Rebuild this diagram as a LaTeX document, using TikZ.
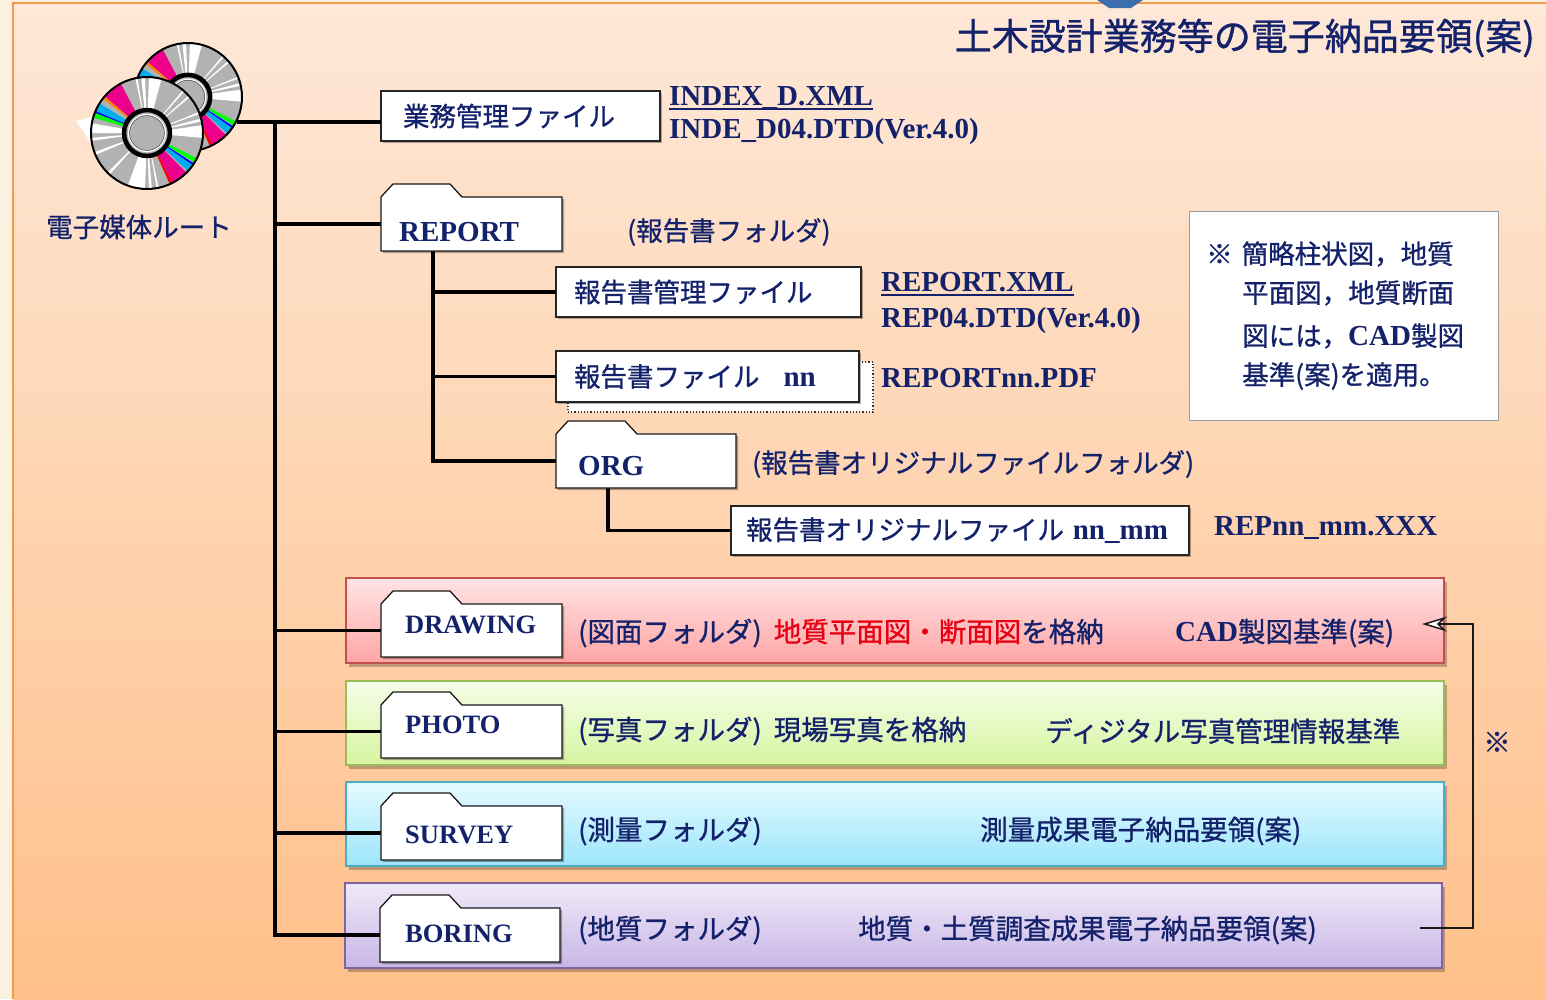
\documentclass[tikz,border=0pt]{standalone}
\usepackage{fontspec}
\setmainfont{Liberation Serif}
\newfontfamily\jp[FakeBold=0.9]{Noto Sans CJK JP}
\usetikzlibrary{shadows,arrows.meta}

\definecolor{navy}{HTML}{14226B}
\definecolor{redtxt}{HTML}{E60012}
\definecolor{stripbg}{HTML}{FBF1DF}
\definecolor{bgtop}{HTML}{FEE8D8}
\definecolor{bgbot}{HTML}{FFC08A}
\definecolor{bgline}{HTML}{F29A4E}
\definecolor{topblue}{HTML}{3D6EAD}
\definecolor{cdgray}{HTML}{B2B2B2}
\definecolor{drwTop}{HTML}{FFE4E4}
\definecolor{drwBot}{HTML}{FFA5A5}
\definecolor{drwLine}{HTML}{C0504D}
\definecolor{phoTop}{HTML}{F6FEEA}
\definecolor{phoBot}{HTML}{D6F4A0}
\definecolor{phoLine}{HTML}{9BBB59}
\definecolor{surTop}{HTML}{E6FAFF}
\definecolor{surBot}{HTML}{9CE5FB}
\definecolor{surLine}{HTML}{4BACC6}
\definecolor{borTop}{HTML}{F0E9F8}
\definecolor{borBot}{HTML}{C8B6E6}
\definecolor{borLine}{HTML}{8064A2}

% outline of a folder drawn round an (invisible) body node
\newcommand\folderpath[1]{%
  \draw[folderline] (#1.south west) -- (#1.north west)
    -- ([shift={(12,-13)}]#1.north west) -- ([shift={(69,-13)}]#1.north west)
    -- ([shift={(81,0)}]#1.north west) -- (#1.north east)
    -- (#1.south east) -- cycle;}

\tikzset{
  jptext/.style={font=\jp\fontsize{27.5}{30}\selectfont, text=navy, inner sep=0, anchor=west},
  jpsmall/.style={font=\jp\fontsize{26.5}{30}\selectfont, text=navy, inner sep=0, anchor=west},
  tmtext/.style={font=\bfseries\fontsize{29}{32}\selectfont, text=navy, inner sep=0, anchor=base west},
  tmfolder/.style={font=\bfseries\fontsize{26.5}{30}\selectfont, text=navy, inner sep=0, anchor=base west},
  filebox/.style={draw=black!85, line width=1.3, fill=white, anchor=west, align=left,
    inner ysep=0, outer sep=0, font=\jp\fontsize{26.5}{30}\selectfont, text=navy,
    drop shadow={shadow xshift=2pt, shadow yshift=-2pt, opacity=0.3, fill=black}},
  dotbox/.style={draw=black!80, dotted, line width=1.2, fill=white, anchor=north west,
    inner sep=0, outer sep=0},
  folderbody/.style={draw=none, inner sep=0, outer sep=0, anchor=north west},
  folderline/.style={draw=black!90, line width=1.3, fill=white,
    drop shadow={shadow xshift=2pt, shadow yshift=-2pt, opacity=0.3, fill=black}},
  band/.style={line width=1.6, anchor=north west, inner sep=0, outer sep=0,
    drop shadow={shadow xshift=3pt, shadow yshift=-4pt, opacity=0.25, fill=black}},
  trunk/.style={line width=3.5, black},
  pics/cd/.style={code={
    \begin{scope}[y=1pt]
      \fill[cdgray] (0,0) circle[radius=#1];
      \foreach \a/\b in {75/88,92/96,100/102,-5/8,12/15,20/22,170/180,185/188,
                         200/203,225/228,250/268,272/275,280/282,40/42,48/50}
        \fill[white] (0,0) -- (\a:#1) arc[start angle=\a, end angle=\b, radius=#1] -- cycle;
      \foreach \a/\b/\c in {118/139/magenta,139/142/orange,148/157/cyan,157/159/blue,
                            159/164/green,-63/-45/magenta,-66/-63/red,-43/-35/cyan,
                            -35/-33/blue,-32/-27/green}
        \fill[\c] (0,0) -- (\a:#1) arc[start angle=\a, end angle=\b, radius=#1] -- cycle;
      \draw[line width=2] (0,0) circle[radius=#1];
      \fill[cdgray] (0,0) circle[radius=#1*0.41];
      \draw[line width=4.5] (0,0) circle[radius=#1*0.41];
      \draw[white, line width=1.2] (0,0) circle[radius=#1*0.33];
      \draw[black!70, line width=0.5] (0,0) circle[radius=#1*0.31];
    \end{scope}}}
}

\begin{document}
\begin{tikzpicture}[x=1pt, y=-1pt]
\useasboundingbox (0,0) rectangle (1546,999);

% page background
\fill[stripbg] (0,0) rectangle (1546,999);
\shade[top color=bgtop, bottom color=bgbot] (13,3) rectangle (1546,999);
\draw[bgline, line width=2] (13,999) -- (13,3) -- (1546,3);
\fill[topblue] (1097,0) -- (1143,0) -- (1131,8) -- (1109,8) -- cycle;

% title
\node[font=\jp\fontsize{37}{40}\selectfont, text=navy, anchor=east, inner sep=0]
  (title) at (1535,38) {土木設計業務等の電子納品要領(案)};

% two discs of the root medium
\pic at (188,97) {cd=54};
\fill[white] (76,121) -- (96,116) -- (96,150) -- cycle;
\pic at (147,133) {cd=56};
\node[jpsmall] (rootT) at (46,227) {電子媒体ルート};

% coloured folder bands
\node[band, draw=drwLine, top color=drwTop, bottom color=drwBot,
  minimum width=1098, minimum height=85] (drwBand) at (346,578) {};
\node[band, draw=phoLine, top color=phoTop, bottom color=phoBot,
  minimum width=1098, minimum height=84] (phoBand) at (346,681) {};
\node[band, draw=surLine, top color=surTop, bottom color=surBot,
  minimum width=1098, minimum height=84] (surBand) at (346,782) {};
\node[band, draw=borLine, top color=borTop, bottom color=borBot,
  minimum width=1097, minimum height=85] (borBand) at (345,883) {};

% note box
\node[draw=black!40, line width=1.3, fill=white, anchor=north west, inner sep=0,
  minimum width=309, minimum height=209] (note) at (1189,211) {};
\node[jpsmall] (note1) at (1206,254) {※\hspace{9pt}簡略柱状図，地質};
\node[jpsmall] (note2) at (1242,293) {平面図，地質断面};
\node[jpsmall] (note3) at (1242,336) {図には，{\rmfamily\bfseries\fontsize{29}{30}\selectfont CAD}製図};
\node[jpsmall] (note4) at (1242,376) {基準(案)を適用。};

% file boxes
\node[filebox, text width=235, inner xsep=22, minimum height=50] (gyomu) at (381,116) {業務管理ファイル};
\node[filebox, text width=269, inner xsep=18, minimum height=50] (rpm) at (556,292) {報告書管理ファイル};
\node[dotbox, minimum width=305, minimum height=50] (rpfS) at (568,362) {};
\node[filebox, text width=267, inner xsep=18, minimum height=51] (rpf) at (556,376.5)
  {報告書ファイル\hspace{24pt}{\rmfamily\bfseries\fontsize{29}{30}\selectfont nn}};
\node[filebox, text width=428, inner xsep=15, minimum height=49] (orgf) at (731,530.5)
  {報告書オリジナルファイル {\rmfamily\bfseries\fontsize{29}{30}\selectfont nn\_mm}};

% folder bodies
\node[folderbody, minimum width=181, minimum height=54] (rep) at (381,197) {};
\node[folderbody, minimum width=180, minimum height=54] (org) at (556,434) {};
\node[folderbody, minimum width=181, minimum height=53] (drw) at (381,604) {};
\node[folderbody, minimum width=181, minimum height=53] (pho) at (381,705) {};
\node[folderbody, minimum width=181, minimum height=54] (sur) at (381,806) {};
\node[folderbody, minimum width=180, minimum height=54] (bor) at (380,908) {};

% tree connectors
\coordinate (root) at (237,122);
\coordinate (tk) at (275,122);
\draw[trunk] (root) -- (root -| gyomu.west);
\draw[trunk] (tk) |- (bor.west);
\foreach \n in {rep,drw,pho,sur}
  \draw[trunk] (tk |- \n.west) -- (\n.west);
\coordinate (rs) at ([xshift=-38.5pt]rep.south);
\draw[trunk] (rs) |- (org.west);
\draw[trunk] (rs |- rpm.west) -- (rpm.west);
\draw[trunk] (rs |- rpf.west) -- (rpf.west);
\coordinate (os) at ([xshift=-38pt]org.south);
\draw[trunk] (os) |- (orgf.west);

% folder outlines
\folderpath{rep}
\folderpath{org}
\folderpath{drw}
\folderpath{pho}
\folderpath{sur}
\folderpath{bor}

% folder names
\node[tmtext] (repT) at (399,241) {REPORT};
\node[tmtext] (orgT) at (578,475) {ORG};
\node[tmfolder] (drwT) at (405,633) {DRAWING};
\node[tmfolder] (phoT) at (405,733) {PHOTO};
\node[tmfolder] (surT) at (405,843) {SURVEY};
\node[tmfolder] (borT) at (405,942) {BORING};

% file names
\node[tmtext] (idx) at (669,105) {INDEX\_D.XML};
\draw[navy, line width=1.8] ([yshift=-4pt]idx.base west) -- ([yshift=-4pt]idx.base east);
\node[tmtext] (idxd) at (669,138) {INDE\_D04.DTD(Ver.4.0)};
\node[tmtext] (repx) at (881,291) {REPORT.XML};
\draw[navy, line width=1.8] ([yshift=-4pt]repx.base west) -- ([yshift=-4pt]repx.base east);
\node[tmtext] (repd) at (881,327) {REP04.DTD(Ver.4.0)};
\node[tmtext] (reppdf) at (881,387) {REPORTnn.PDF};
\node[tmtext] (repxxx) at (1214,535) {REPnn\_mm.XXX};

% folder descriptions
\node[jpsmall] (repL) at (627,232) {(報告書フォルダ)};
\node[jpsmall] (orgL) at (752,464) {(報告書オリジナルファイルフォルダ)};

\node[jptext] (drwL) at (578,633) {(図面フォルダ)\hspace{12pt}\textcolor{redtxt}{地質平面図・断面図}を格納};
\node[jptext] (drwS) at (1175,633) {{\rmfamily\bfseries\fontsize{29}{30}\selectfont CAD}製図基準(案)};
\node[jptext] (phoL) at (578,731) {(写真フォルダ)\hspace{12pt}現場写真を格納};
\node[jptext] (phoS) at (1045,731) {ディジタル写真管理情報基準};
\node[jptext] (surL) at (578,831) {(測量フォルダ)};
\node[jptext] (surS) at (980,831) {測量成果電子納品要領(案)};
\node[jptext] (borL) at (578,930) {(地質フォルダ)};
\node[jptext] (borS) at (858,930) {地質・土質調査成果電子納品要領(案)};

% bracket from the boring band back to the drawing band
\coordinate (bk1) at (1420,928);
\coordinate (bk2) at (1422,624);
\draw[line width=1.5, black!90, -{Stealth[length=25pt, width=15pt, inset=8pt, fill=white]}]
  (bk1) -- ++(53,0) |- (bk2);
\node[jptext, anchor=center] (mark) at (1497,742) {※};

\end{tikzpicture}
\end{document}
